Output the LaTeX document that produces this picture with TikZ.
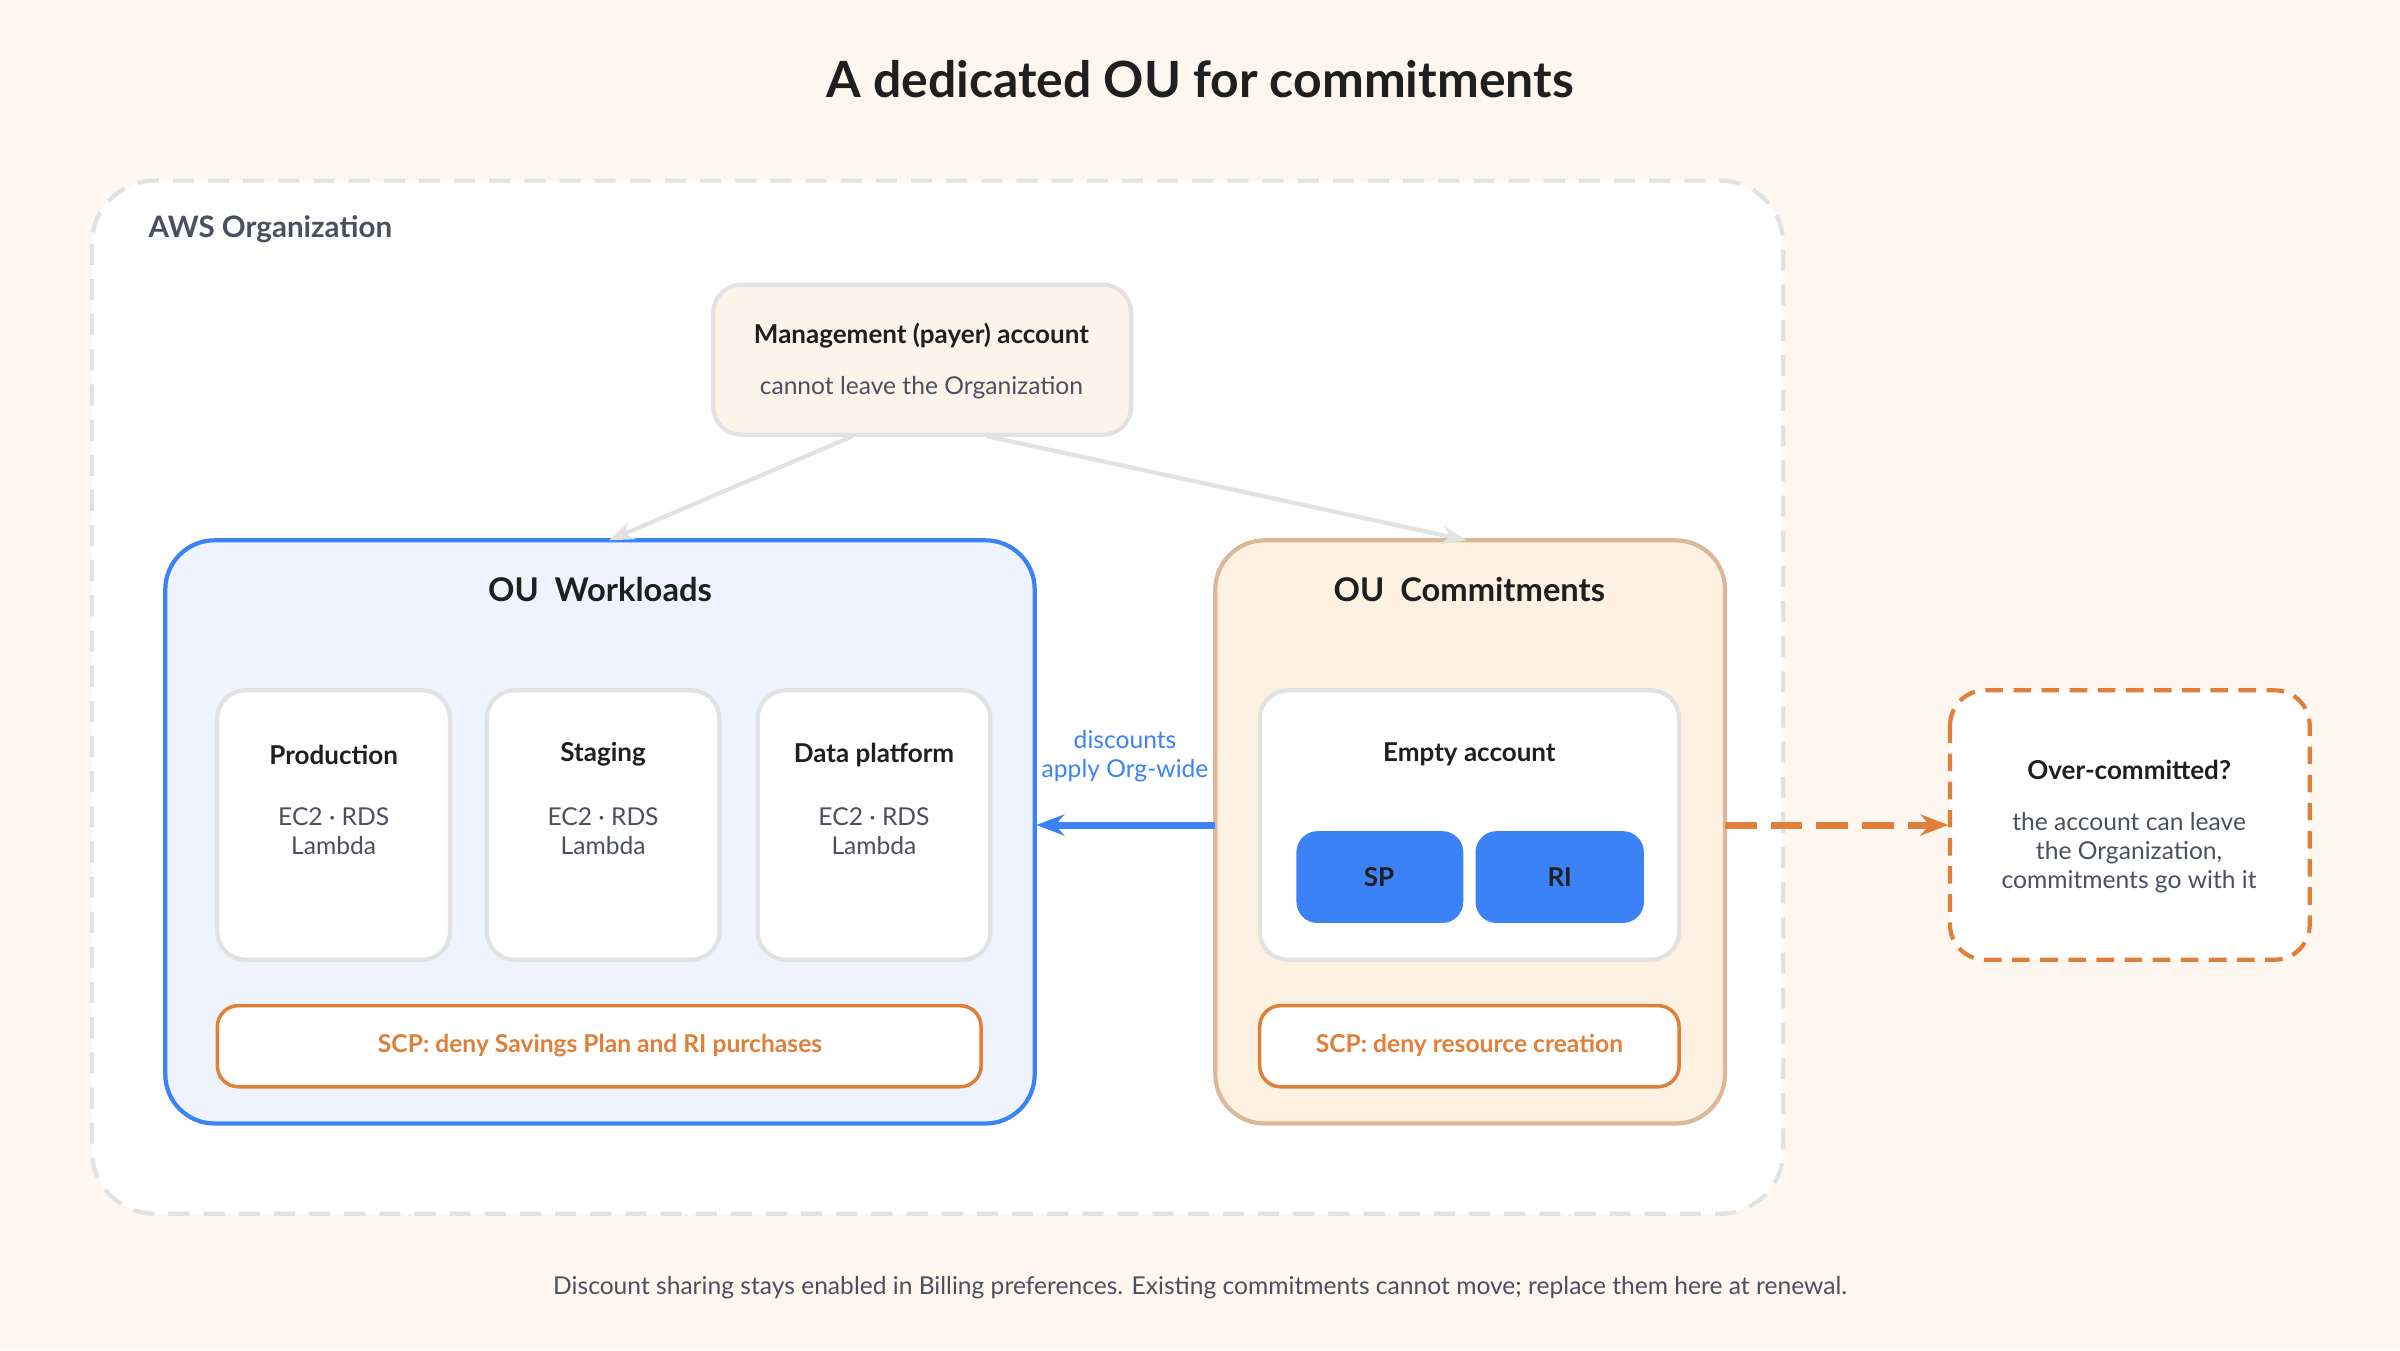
\documentclass[tikz,border=0pt]{standalone}
\usepackage{fontspec}
\setmainfont{Lato}
\usetikzlibrary{arrows.meta}
\definecolor{bgcream}{HTML}{FDF7F0}
\definecolor{ink}{HTML}{1F1F1F}
\definecolor{muted}{HTML}{4B5060}
\definecolor{edgegray}{HTML}{E2E2E2}
\definecolor{wlblue}{HTML}{3B82F6}
\definecolor{wlfill}{HTML}{EEF3FD}
\definecolor{cmfill}{HTML}{FDF1E2}
\definecolor{cmedge}{HTML}{DDB898}
\definecolor{scporange}{HTML}{DF7F3A}
\definecolor{mgmtfill}{HTML}{FCF4EA}
\newcommand{\bodyfont}{\fontsize{7}{8.2}\selectfont}
\tikzset{
  card/.style={draw=edgegray, line width=1.2pt, fill=white, rounded corners=8pt},
  scp/.style={draw=scporange, line width=1pt, fill=white, rounded corners=6pt},
  scptext/.style={text=scporange, font=\bfseries\bodyfont},
  title/.style={font=\bfseries\fontsize{7.4}{9}\selectfont, text=ink},
  sub/.style={font=\bodyfont, text=muted, align=center},
  outitle/.style={font=\bfseries\fontsize{9.3}{11}\selectfont, text=ink},
  commit/.style={fill=wlblue, rounded corners=6pt},
}
\begin{document}
\begin{tikzpicture}[x=0.015306cm, y=-0.015306cm]
  \fill[bgcream] (0,0) rectangle (1568,882);

  \node[font=\bfseries\fontsize{14.2}{17}\selectfont, text=ink] (head) at (784,52) {A dedicated OU for commitments};

  % Organisation
  \draw[edgegray, line width=1.2pt, dash pattern=on 6pt off 4pt, fill=white, rounded corners=18pt]
    (60,118) rectangle (1165,793);
  \node[anchor=west, font=\bfseries\fontsize{8.4}{10}\selectfont, text=muted] (org) at (89,150) {AWS Organization};

  % Management account
  \draw[card, fill=mgmtfill] (466,186) rectangle (739,284);
  \node[title] (mgmt) at (602,219) {Management (payer) account};
  \node[sub] (mgmtsub) at (602,253) {cannot leave the Organization};
  \coordinate (mgmtL) at (557,285);
  \coordinate (mgmtR) at (645,285);

  % OU Workloads
  \draw[draw=wlblue, line width=1.2pt, fill=wlfill, rounded corners=14pt] (108,353) rectangle (676,734);
  \node[outitle] (wl) at (392,385) {OU\ \ Workloads};
  \coordinate (wlTop) at (398,353);
  \coordinate (wlR) at (677,539);
  \foreach \x/\name in {142/Production, 318/Staging, 495/Data platform} {
    \draw[card] (\x,451) rectangle (\x+152,627);
    \node[title] at (\x+76,493) {\name};
    \node[sub] at (\x+76,543) {EC2 · RDS\\Lambda};
  }
  \draw[scp] (142,657) rectangle (641,710);
  \node[scptext] (scpwl) at (392,683) {SCP: deny Savings Plan and RI purchases};

  % OU Commitments
  \draw[draw=cmedge, line width=1.2pt, fill=cmfill, rounded corners=14pt] (794,353) rectangle (1127,734);
  \node[outitle] (cm) at (960,385) {OU\ \ Commitments};
  \coordinate (cmTop) at (958,353);
  \coordinate (cmL) at (794,539);
  \coordinate (cmR) at (1127,539);
  \draw[card] (823,451) rectangle (1097,627);
  \node[title] (empty) at (960,493) {Empty account};
  \fill[commit] (847,543) rectangle (956,603);
  \node[text=white, title] (sp) at (901,573) {SP};
  \fill[commit] (964,543) rectangle (1074,603);
  \node[text=white, title] (ri) at (1019,573) {RI};
  \draw[scp] (823,657) rectangle (1097,710);
  \node[scptext] (scpcm) at (960,683) {SCP: deny resource creation};

  % Over-committed
  \draw[draw=scporange, line width=1.2pt, dash pattern=on 5pt off 3pt, fill=white, rounded corners=10pt]
    (1274,451) rectangle (1509,627);
  \coordinate (overL) at (1273,539);
  \node[title] (over) at (1391,503) {Over-committed?};
  \node[sub] (oversub) at (1391,557)
    {the account can leave\\the Organization,\\commitments go with it};

  % Verbindungen
  \draw[edgegray, line width=1.2pt, -{Stealth[length=7pt]}] (mgmtL) -- (wlTop);
  \draw[edgegray, line width=1.2pt, -{Stealth[length=7pt]}] (mgmtR) -- (cmTop);
  \draw[wlblue, line width=2pt, -{Stealth[length=8pt]}] (cmL) -- (wlR);
  \node[text=wlblue, font=\bodyfont, align=center] (disc) at (735,494) {discounts\\apply Org-wide};
  \draw[scporange, line width=2pt, dash pattern=on 9pt off 4pt, -{Stealth[length=8pt]}] (cmR) -- (overL);

  \node[font=\bodyfont, text=muted] (foot) at (784,841)
    {Discount sharing stays enabled in Billing preferences. Existing commitments cannot move; replace them here at renewal.};
\end{tikzpicture}
\end{document}
